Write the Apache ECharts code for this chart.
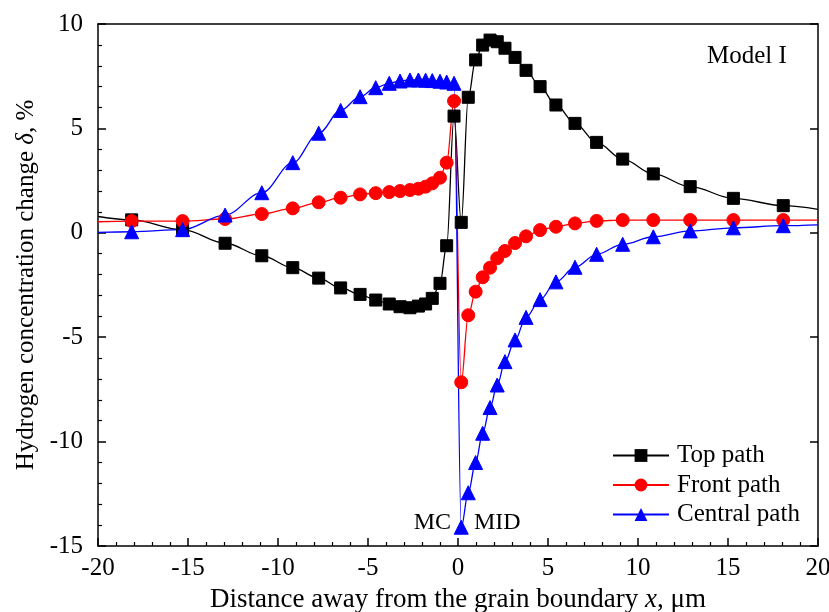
<!DOCTYPE html>
<html>
<head>
<meta charset="utf-8">
<script src="https://cdn.jsdelivr.net/npm/echarts@6/dist/echarts.min.js"></script>
<style>
    html, body { margin: 0; padding: 0; background: #fff; }
    #chart { width: 829px; height: 612px; }
</style>
</head>
<body>
<div id="chart"></div>
<script>
    // sampled positions along the path (um)
    var xs = [-18.13, -15.3, -12.94, -10.9, -9.18, -7.74, -6.52, -5.44, -4.57, -3.82, -3.22, -2.67,
        -2.2, -1.8, -1.43, -1.0, -0.63, -0.22, 0.18, 0.57, 0.98, 1.37, 1.78, 2.18, 2.61, 3.17,
        3.78, 4.56, 5.44, 6.5, 7.7, 9.15, 10.85, 12.9, 15.3, 18.07];
    var topPath = [0.62, 0.15, -0.5, -1.1, -1.67, -2.17, -2.64, -2.95, -3.22, -3.41, -3.54, -3.59,
        -3.51, -3.41, -3.14, -2.42, -0.62, 5.59, 0.5, 6.49, 8.28, 8.99, 9.23, 9.15, 8.84, 8.4,
        7.78, 7.0, 6.12, 5.24, 4.33, 3.53, 2.82, 2.21, 1.65, 1.3];
    var frontPath = [0.56, 0.56, 0.66, 0.9, 1.17, 1.46, 1.68, 1.84, 1.9, 1.95, 2.0, 2.05,
        2.11, 2.21, 2.37, 2.64, 3.36, 6.31, -7.16, -3.95, -2.82, -2.13, -1.67, -1.22, -0.87, -0.49,
        -0.17, 0.13, 0.29, 0.45, 0.57, 0.61, 0.61, 0.61, 0.61, 0.61];
    var centralPath = [0.05, 0.15, 0.85, 1.92, 3.36, 4.77, 5.86, 6.52, 6.95, 7.16, 7.27, 7.32,
        7.32, 7.31, 7.29, 7.26, 7.22, 7.16, -14.1, -12.45, -11.0, -9.6, -8.37, -7.29, -6.17, -5.13,
        -4.05, -3.2, -2.35, -1.65, -1.03, -0.55, -0.19, 0.09, 0.24, 0.34];
    // curve values at the plot edges (x = -20 and 20), drawn without markers
    var edgeTop = [0.78, 1.12];
    var edgeFront = [0.53, 0.61];
    var edgeCentral = [0.02, 0.38];

    function buildData(vals, edge) {
        var d = [{ value: [-20, edge[0]], symbol: 'none' }];
        xs.forEach(function (x, i) { d.push([x, vals[i]]); });
        d.push({ value: [20, edge[1]], symbol: 'none' });
        return d;
    }

    var font = 'Liberation Serif';
    var myChart = echarts.init(document.getElementById('chart'));

    function valueAxis(pos, min, max, interval, showLabels) {
        return {
            type: 'value',
            position: pos,
            min: min,
            max: max,
            interval: interval,
            axisLine: { show: true, onZero: false, lineStyle: { color: '#000', width: 1.5 } },
            axisTick: { show: true, inside: true, length: 8, lineStyle: { color: '#000', width: 1.5 } },
            minorTick: { show: true, splitNumber: 5, length: 4, lineStyle: { color: '#000', width: 1.2 } },
            splitLine: { show: false },
            axisLabel: { show: showLabels, color: '#000', fontFamily: font, fontSize: 25, margin: 8 }
        };
    }

    var xMain = valueAxis('bottom', -20, 20, 5, true);
    xMain.axisLabel.margin = 10;
    xMain.name = '{t|Distance away from the grain boundary }{i|x}{t|, μm}';
    xMain.nameLocation = 'middle';
    xMain.nameGap = 40;
    xMain.nameTextStyle = {
        rich: {
            t: { fontFamily: font, fontSize: 27, color: '#000' },
            i: { fontFamily: font, fontSize: 27, color: '#000', fontStyle: 'italic' }
        }
    };
    var yMain = valueAxis('left', -15, 10, 5, true);
    yMain.axisLabel.margin = 15;
    yMain.name = '{t|Hydrogen concentration change }{i|δ}{t|, %}';
    yMain.nameLocation = 'middle';
    yMain.nameGap = 48;
    yMain.nameTextStyle = {
        rich: {
            t: { fontFamily: font, fontSize: 25, color: '#000' },
            i: { fontFamily: font, fontSize: 25, color: '#000', fontStyle: 'italic' }
        }
    };
    var xTop = valueAxis('top', -20, 20, 5, false);
    xTop.axisTick.show = false;
    xTop.minorTick.show = false;
    var yRight = valueAxis('right', -15, 10, 5, false);
    yRight.minorTick.show = false;

    function line(name, color, symbol, size, vals, edge) {
        return {
            name: name,
            type: 'line',
            data: buildData(vals, edge),
            smooth: 0.35,
            smoothMonotone: 'x',
            symbol: symbol,
            symbolSize: size,
            showAllSymbol: true,
            lineStyle: { color: color, width: 1.3 },
            itemStyle: { color: color, borderColor: color },
            emphasis: { disabled: true },
            animation: false
        };
    }

    var option = {
        animation: false,
        grid: { left: 98, right: 11, top: 24, bottom: 66, containLabel: false, outerBoundsMode: 'none' },
        xAxis: [xMain, xTop],
        yAxis: [yMain, yRight],
        legend: {
            orient: 'vertical',
            left: 612,
            top: 443,
            padding: 0,
            itemWidth: 56,
            itemHeight: 16,
            itemGap: 4.5,
            textStyle: { fontFamily: font, fontSize: 25, lineHeight: 25, color: '#000', padding: [0, 0, 0, 3] },
            data: ['Top path', 'Front path', 'Central path']
        },
        graphic: [
            { type: 'text', left: 707, top: 44, style: { text: 'Model I', font: '25px "Liberation Serif"', fill: '#000' } },
            { type: 'text', right: 829 - 451, top: 511, style: { text: 'MC', font: '24px "Liberation Serif"', fill: '#000' } },
            { type: 'text', left: 474, top: 511, style: { text: 'MID', font: '24px "Liberation Serif"', fill: '#000' } }
        ],
        series: [
            line('Top path', '#000000', 'rect', 12, topPath, edgeTop),
            line('Front path', '#ff0000', 'circle', 13, frontPath, edgeFront),
            line('Central path', '#0000ff', 'triangle', 14, centralPath, edgeCentral)
        ]
    };
    myChart.setOption(option);
</script>
</body>
</html>
